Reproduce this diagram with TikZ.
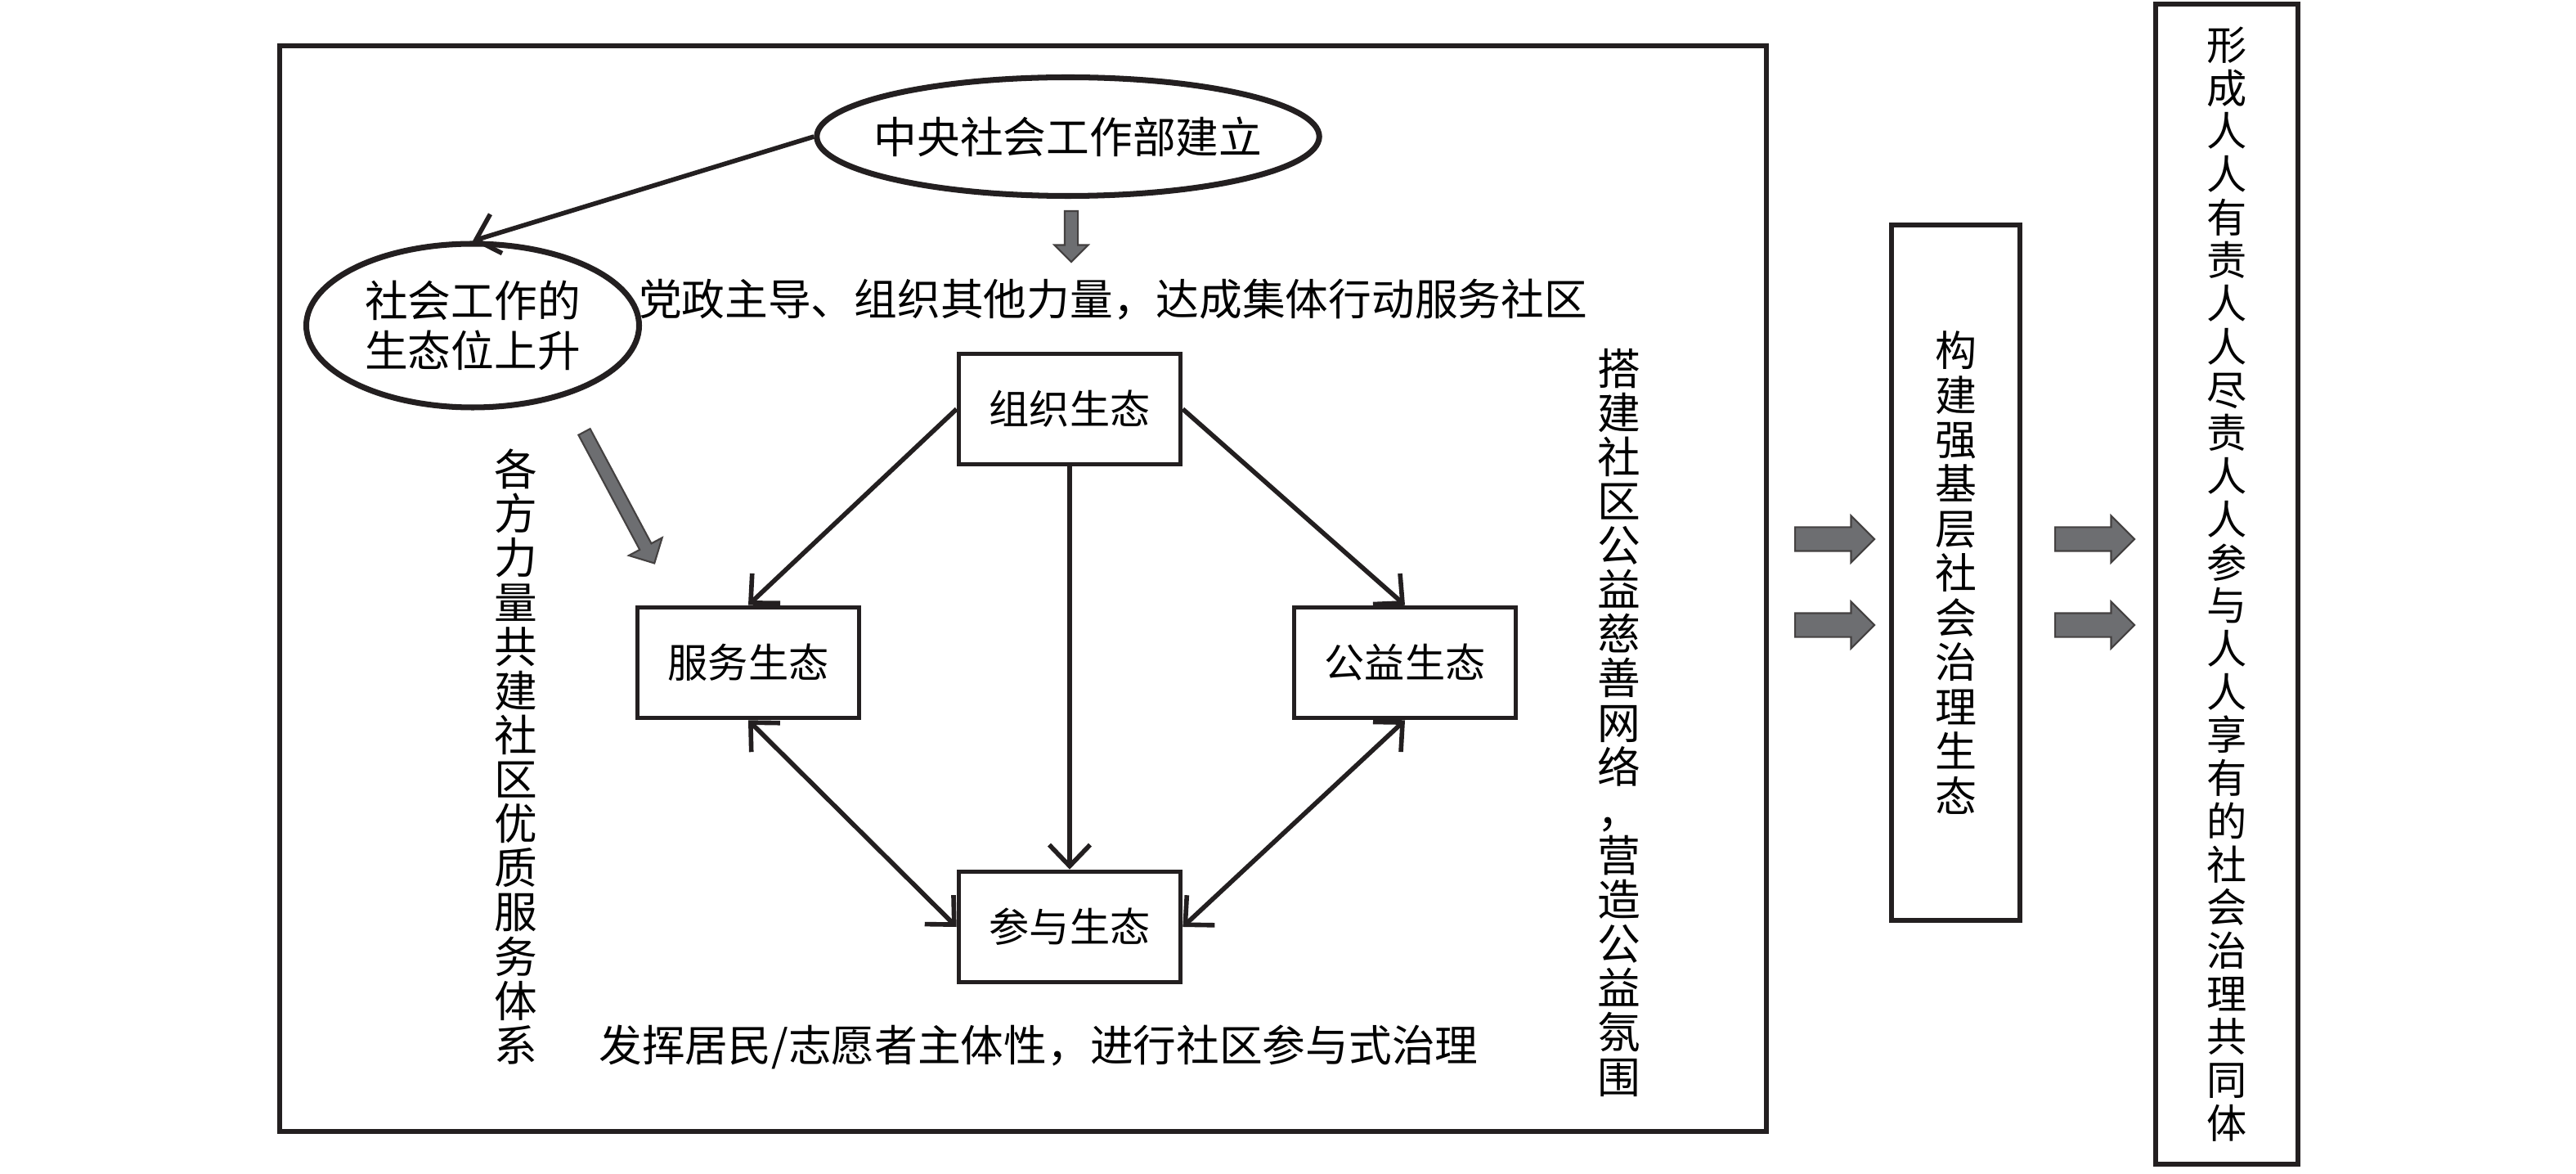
\documentclass[tikz,border=0pt]{standalone}
\usepackage{fontspec}
\setmainfont{Noto Sans CJK SC}
\usetikzlibrary{shapes.geometric, shapes.arrows, arrows.meta, positioning, calc}

\definecolor{ink}{HTML}{231F20}
\definecolor{blockgray}{HTML}{6D6E71}

\tikzset{
  ecobox/.style={draw=ink, line width=1.6pt, minimum width=2.71cm, minimum height=1.35cm,
    inner sep=0pt, font=\fontsize{14}{16}\selectfont},
  oval/.style={ellipse, draw=ink, line width=2pt, inner sep=0pt, align=center},
  link/.style={draw=ink, line width=1.6pt, -{Straight Barb[length=2.6mm,width=5mm]}},
  twoway/.style={link, {Straight Barb[length=2.6mm,width=5mm]}-{Straight Barb[length=2.6mm,width=5mm]}},
  grayarrow/.style={single arrow, draw=ink!85, fill=blockgray, line width=0.6pt,
    inner xsep=0pt, minimum width=0pt},
  coltext/.style={align=center, inner sep=0pt, font=\fontsize{15}{15.4}\selectfont},
}

\begin{document}
\begin{tikzpicture}[font=\fontsize{15}{18}\selectfont]
\path[fill=white, use as bounding box] (0,0) rectangle (31.5,14.34);

% outer frame of the community part
\draw[ink, line width=1.6pt] (3.42,0.51) rectangle (21.60,13.78);

% the two ovals
\node[oval, inner xsep=-0.2cm, inner ysep=0.1cm, minimum height=1.45cm,
  font=\fontsize{15}{18}\selectfont] (centre) at (13.06,12.67) {中央社会工作部建立};
\node[oval, minimum width=4.07cm, minimum height=2.0cm, font=\fontsize{15}{17.2}\selectfont]
  (rise) at (5.78,10.36) {社会工作的\\生态位上升};
\draw[link] (centre.west) -- (rise.north);

% gray block arrows
\node[grayarrow, inner ysep=0.07cm, single arrow head extend=0.125cm, minimum height=0.62cm,
  rotate=-90, anchor=tail] (down) at (13.10,11.77) {};
\node[grayarrow, inner ysep=0.07cm, single arrow head extend=0.15cm, minimum height=1.82cm,
  rotate=-61.9, anchor=tail] (slant) at (7.14,9.07) {};

\node (lead) at (13.61,10.68) {党政主导、组织其他力量，达成集体行动服务社区};

% four ecologies
\node[ecobox] (org) at (13.08,9.34) {组织生态};
\node[ecobox] (serv) at (9.15,6.24) {服务生态};
\node[ecobox] (pub) at (17.18,6.24) {公益生态};
\node[ecobox] (part) at (13.08,3.01) {参与生态};

\draw[link] (org.west) -- (serv.north);
\draw[link] (org.east) -- (pub.north);
\draw[link] (org.south) -- (part.north);
\draw[twoway] (serv.south) -- (part.west);
\draw[twoway] (pub.south) -- (part.east);

% side and bottom texts
\node[coltext] (forces) at (6.31,5.09)
  {各\\方\\力\\量\\共\\建\\社\\区\\优\\质\\服\\务\\体\\系};
\node[coltext] (net) at (19.80,5.51)
  {搭\\建\\社\\区\\公\\益\\慈\\善\\网\\络\\，\\营\\造\\公\\益\\氛\\围};
\node (engage) at (12.70,1.54) {发挥居民/志愿者主体性，进行社区参与式治理};

% governance ecology and community
\node[draw=ink, line width=1.6pt, minimum width=1.57cm, minimum height=8.5cm, inner sep=0pt,
  align=center, font=\fontsize{14.5}{15.5}\selectfont]
  (build) at (23.915,7.34) {构\\建\\强\\基\\层\\社\\会\\治\\理\\生\\态};
\node[draw=ink, line width=1.6pt, minimum width=1.74cm, minimum height=14.18cm, inner sep=0pt,
  align=center, font=\fontsize{14}{15}\selectfont]
  (whole) at (27.23,7.20)
  {形\\成\\人\\人\\有\\责\\人\\人\\尽\\责\\人\\人\\参\\与\\人\\人\\享\\有\\的\\社\\会\\治\\理\\共\\同\\体};

\foreach \y/\n in {7.75/1, 6.70/2} {
  \node[grayarrow, inner ysep=0.135cm, single arrow head extend=0.14cm, minimum height=0.97cm,
    anchor=tail] (toBuild\n) at (21.94,\y) {};
  \node[grayarrow, inner ysep=0.135cm, single arrow head extend=0.14cm, minimum height=0.97cm,
    anchor=tail] (toWhole\n) at (25.12,\y) {};
}
\end{tikzpicture}
\end{document}
